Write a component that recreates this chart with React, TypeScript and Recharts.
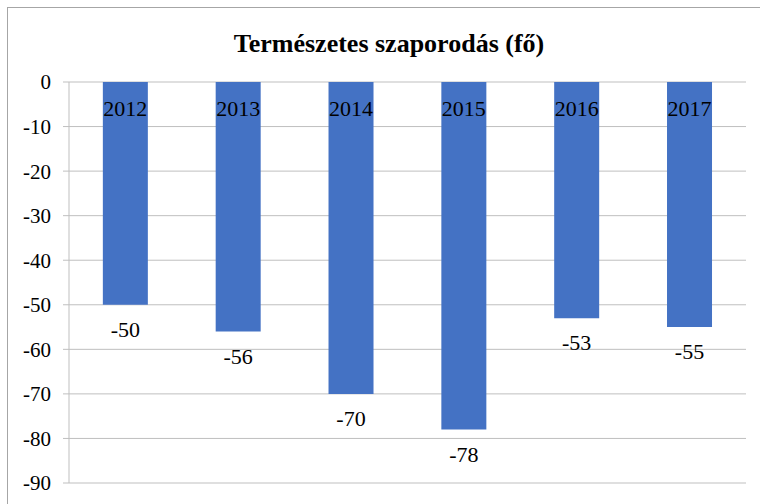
import { BarChart, Bar, XAxis, YAxis, CartesianGrid, LabelList } from 'recharts';

const years = ['2012', '2013', '2014', '2015', '2016', '2017'];
const growth = [-50, -56, -70, -78, -53, -55];
const yTicks = [0, -10, -20, -30, -40, -50, -60, -70, -80, -90];
const boundaryTicks = [0, 1, 2, 3, 4, 5, 6];

const BLUE = '#4472C4';
const GRID = '#bfbfbf';
const FONT = "'Times New Roman', 'Liberation Serif', serif";

const data = years.map((year, i) => ({ year, value: growth[i], pos: i + 0.5 }));

const box = (props: any) => {
  const vb = props.viewBox || props;
  const y = Number(vb.y);
  const h = Number(vb.height);
  return {
    cx: Number(vb.x) + Number(vb.width) / 2,
    top: Math.min(y, y + h),
    bottom: Math.max(y, y + h),
  };
};

const YearLabel = (props: any) => {
  const { cx, top } = box(props);
  return (
    <text x={cx} y={top + 34} textAnchor="middle" style={{ fontFamily: FONT, fontSize: 22 }} fill="#000">
      {props.value}
    </text>
  );
};

const ValueLabel = (props: any) => {
  const { cx, bottom } = box(props);
  return (
    <text x={cx} y={bottom + 32} textAnchor="middle" style={{ fontFamily: FONT, fontSize: 22 }} fill="#000">
      {props.value}
    </text>
  );
};

export default function App() {
  return (
    <div
      style={{
        position: 'absolute',
        left: 0,
        top: 0,
        width: 760,
        height: 504,
        overflow: 'hidden',
        background: '#fff',
        fontFamily: FONT,
      }}
    >
      <div
        style={{
          position: 'absolute',
          left: 7,
          top: 7,
          width: 800,
          height: 600,
          borderLeft: '1px solid #a6a6a6',
          borderTop: '1px solid #a6a6a6',
        }}
      />
      <svg width={760} height={60} style={{ position: 'absolute', left: 0, top: 0 }}>
        <text
          x={389}
          y={52}
          textAnchor="middle"
          style={{ fontFamily: FONT, fontWeight: 'bold', fontSize: 26 }}
          fill="#000"
        >
          Természetes szaporodás (fő)
        </text>
      </svg>
      <div style={{ position: 'absolute', left: 0, top: 0 }}>
        <BarChart
          width={760}
          height={504}
          data={data}
          margin={{ top: 82, right: 14, bottom: 21, left: 0 }}
          barCategoryGap="30%"
        >
          <CartesianGrid horizontal vertical={false} stroke={GRID} strokeWidth={1} />
          <XAxis dataKey="year" orientation="top" height={0} hide />
          <XAxis
            xAxisId="edges"
            type="number"
            dataKey="pos"
            domain={[0, 6]}
            ticks={boundaryTicks}
            orientation="top"
            height={0}
            tick={false}
            axisLine={false}
            tickLine={{ stroke: GRID }}
            tickSize={-5}
          />
          <YAxis
            width={69}
            domain={[-90, 0]}
            ticks={yTicks}
            interval={0}
            axisLine={{ stroke: GRID }}
            tickLine={{ stroke: GRID }}
            tickSize={6}
            tickMargin={12}
            tick={{ style: { fontFamily: FONT, fontSize: 21 }, fill: '#000' }}
          />
          <Bar dataKey="value" fill={BLUE} isAnimationActive={false}>
            <LabelList dataKey="year" content={YearLabel} />
            <LabelList dataKey="value" content={ValueLabel} />
          </Bar>
        </BarChart>
      </div>
    </div>
  );
}
